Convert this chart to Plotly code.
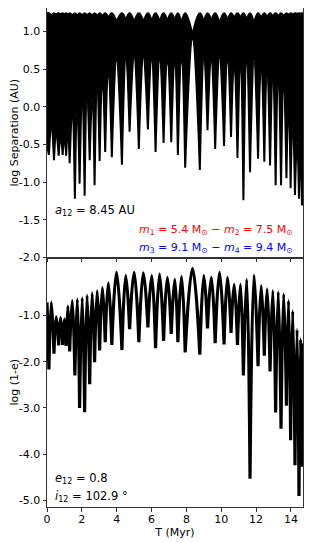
import plotly.graph_objects as go
from plotly.subplots import make_subplots

# ---------------- data ----------------
# times (Myr) of the eccentricity maxima (dips of log(1-e))
t_dip = [0.11, 0.40, 0.67, 0.90, 1.10, 1.30, 1.60, 1.87, 2.16, 2.45, 2.73, 3.02, 3.34,
         3.72, 4.30, 4.74, 5.27, 5.79, 6.23, 6.69, 7.13, 7.51, 7.93, 8.77, 9.21, 9.65,
         10.16, 10.56, 10.93, 11.27, 11.65, 12.11, 12.47, 12.80, 13.12, 13.43, 13.74,
         13.98, 14.23, 14.46, 14.63]
# times (Myr) of the eccentricity minima (arches), incl. the two ends of the run
t_peak = [0.00, 0.25, 0.53, 0.78, 1.00, 1.20, 1.45, 1.74, 2.02, 2.30, 2.59, 2.88, 3.18,
          3.52, 3.99, 4.52, 5.00, 5.53, 6.01, 6.46, 6.91, 7.33, 7.72, 8.35, 9.00, 9.43,
          9.90, 10.36, 10.74, 11.10, 11.46, 11.88, 12.29, 12.63, 12.96, 13.27, 13.58,
          13.86, 14.10, 14.35, 14.55, 14.69]

# log(1-e) at the dips and at the arches
ecc_dip = [-2.17, -1.83, -1.65, -1.64, -1.66, -1.78, -2.30, -3.00, -3.09, -2.49, -2.01,
           -1.76, -1.58, -1.64, -1.75, -1.30, -1.58, -1.26, -1.71, -1.55, -1.40, -1.58,
           -1.80, -1.85, -1.28, -1.60, -1.63, -1.38, -1.64, -2.30, -4.53, -2.10, -1.87,
           -2.21, -3.10, -3.45, -2.95, -3.70, -4.24, -4.90, -4.27]
ecc_peak = [-0.72, -0.72, -1.03, -1.05, -1.08, -0.80, -0.68, -0.65, -0.62, -0.57, -0.52,
            -0.47, -0.40, -0.30, -0.07, -0.14, -0.07, -0.08, -0.14, -0.11, -0.18, -0.22,
            -0.16, 0.01, -0.14, -0.18, -0.07, -0.18, -0.33, -0.33, -0.22, -0.13, -0.36,
            -0.43, -0.47, -0.49, -0.54, -0.68, -0.90, -1.30, -1.51, -1.60]

# log separation: lower edge of the black band (at dips / at arches)
sep_lo_dip = [-0.64, -0.71, -0.65, -0.64, -0.65, -0.75, -1.22, -1.02, -1.18, -0.71, -1.04,
              -0.72, -0.60, -0.67, -0.77, -0.33, -0.56, -0.30, -0.60, -0.48, -0.47, -0.64,
              -0.81, -0.84, -0.31, -0.56, -0.52, -0.40, -0.68, -1.24, -0.87, -0.69, -0.73,
              -0.78, -1.04, -1.04, -0.95, -1.08, -1.17, -1.22, -1.31]
sep_lo_peak = [-0.50, -0.30, -0.40, -0.40, -0.40, -0.30, -0.15, -0.05, 0.00, 0.05, 0.10,
               0.18, 0.25, 0.40, 0.62, 0.62, 0.66, 0.66, 0.62, 0.62, 0.58, 0.55, 0.60,
               0.90, 0.62, 0.60, 0.66, 0.60, 0.48, 0.48, 0.58, 0.62, 0.45, 0.38, 0.32,
               0.28, 0.22, 0.08, -0.15, -0.45, -0.60, -1.00]
# log separation: upper edge of the black band (at dips / at arches)
sep_hi_dip = [1.24] * len(t_dip)
sep_hi_peak = [1.24, 1.21, 1.22, 1.22, 1.22, 1.21, 1.21, 1.21, 1.21, 1.21, 1.20, 1.20,
               1.19, 1.17, 1.12, 1.14, 1.12, 1.12, 1.13, 1.12, 1.13, 1.14, 1.10, 0.95,
               1.12, 1.14, 1.10, 1.14, 1.17, 1.17, 1.15, 1.10, 1.17, 1.18, 1.19, 1.19,
               1.20, 1.21, 1.22, 1.23, 1.23, 1.24]

sep_ticks = [1.0, 0.5, 0.0, -0.5, -1.0, -1.5, -2.0]
ecc_ticks = [-1.0, -2.0, -3.0, -4.0, -5.0]
t_ticks = [0, 2, 4, 6, 8, 10, 12, 14]


def weave(peaks, dips, sharp):
    """Alternate arch / dip vertices; the vertices named in `sharp` are given twice so
    that plotly's spline turns there with a corner (cusp) instead of a round bend."""
    out = []
    for i, d in enumerate(dips):
        p = peaks[i]
        out += [p, p] if (sharp == "peaks" and 0 < i) else [p]
        out += [d, d] if sharp == "dips" else [d]
    out.append(peaks[-1])
    return out


T_d = weave(t_peak, t_dip, "dips")
T_p = weave(t_peak, t_dip, "peaks")
ECC = weave(ecc_peak, ecc_dip, "dips")
SLO = weave(sep_lo_peak, sep_lo_dip, "dips")
SHI = weave(sep_hi_peak, sep_hi_dip, "peaks")

FONT = "DejaVu Sans"
fig = make_subplots(rows=2, cols=1, shared_xaxes=True, vertical_spacing=0)

fig.add_trace(go.Scatter(x=T_d, y=SLO, mode="lines",
                         line=dict(color="black", width=2, shape="spline", smoothing=1.3, simplify=False),
                         showlegend=False, hoverinfo="skip"), row=1, col=1)
fig.add_trace(go.Scatter(x=T_p, y=SHI, mode="lines",
                         line=dict(color="black", width=2, shape="spline", smoothing=1.3, simplify=False),
                         fill="tonexty", fillcolor="black", showlegend=False, hoverinfo="skip"),
              row=1, col=1)
fig.add_trace(go.Scatter(x=T_d, y=ECC, mode="lines",
                         line=dict(color="black", width=3.2, shape="spline", smoothing=1.3, simplify=False),
                         showlegend=False, hoverinfo="skip"), row=2, col=1)

axis_common = dict(showline=True, linecolor="#333", linewidth=1, mirror=True, showgrid=False,
                   zeroline=False, ticks="outside", ticklen=3.5, tickwidth=1, tickcolor="#333",
                   automargin=False,
                   tickfont=dict(family=FONT, size=11, color="black"))

fig.update_xaxes(range=[0, 14.69], tickvals=t_ticks, ticktext=[str(v) for v in t_ticks], **axis_common)
fig.update_xaxes(showticklabels=False, row=1, col=1)
fig.update_xaxes(title=dict(text="T (Myr)", font=dict(family=FONT, size=11, color="black"), standoff=1),
                 ticklabelstandoff=-2, row=2, col=1)

fig.update_yaxes(range=[-2.0, 1.31], tickvals=sep_ticks, ticktext=[f"{v:.1f}" for v in sep_ticks],
                 title=dict(text="log Separation (AU)", font=dict(family=FONT, size=11, color="black"),
                            standoff=6), row=1, col=1, **axis_common)
fig.update_yaxes(range=[-5.14, 0.25], tickvals=ecc_ticks, ticktext=[f"{v:.1f}" for v in ecc_ticks],
                 title=dict(text="log (1-e)", font=dict(family=FONT, size=11, color="black"),
                            standoff=6), row=2, col=1, **axis_common)

ann_font = dict(family=FONT, size=11.5)
fig.add_annotation(xref="paper", yref="paper", x=0.0234, y=0.595, xanchor="left", yanchor="middle",
                   text="<i>a</i><sub>12</sub> = 8.45 AU", showarrow=False, font=dict(color="black", **ann_font))
fig.add_annotation(xref="paper", yref="paper", x=0.967, y=0.555, xanchor="right", yanchor="middle",
                   text="<i>m</i><sub>1</sub> = 5.4 M<sub>⊙</sub> − <i>m</i><sub>2</sub> = 7.5 M<sub>⊙</sub>",
                   showarrow=False, font=dict(color="red", family=FONT, size=11))
fig.add_annotation(xref="paper", yref="paper", x=0.967, y=0.520, xanchor="right", yanchor="middle",
                   text="<i>m</i><sub>3</sub> = 9.1 M<sub>⊙</sub> − <i>m</i><sub>4</sub> = 9.4 M<sub>⊙</sub>",
                   showarrow=False, font=dict(color="blue", family=FONT, size=11))
fig.add_annotation(xref="paper", yref="paper", x=0.0234, y=0.058, xanchor="left", yanchor="middle",
                   text="<i>e</i><sub>12</sub> = 0.8", showarrow=False, font=dict(color="black", **ann_font))
fig.add_annotation(xref="paper", yref="paper", x=0.0234, y=0.0206, xanchor="left", yanchor="middle",
                   text="<i>i</i><sub>12</sub> = 102.9 °", showarrow=False, font=dict(color="black", **ann_font))

# the page body adds an 8 px offset, so the figure is 8 px smaller than the window
fig.update_layout(width=304, height=535, margin=dict(l=39, r=9, t=0, b=36),
                  paper_bgcolor="white", plot_bgcolor="white",
                  font=dict(family=FONT, size=11, color="black"))

fig.write_html("out.html")
